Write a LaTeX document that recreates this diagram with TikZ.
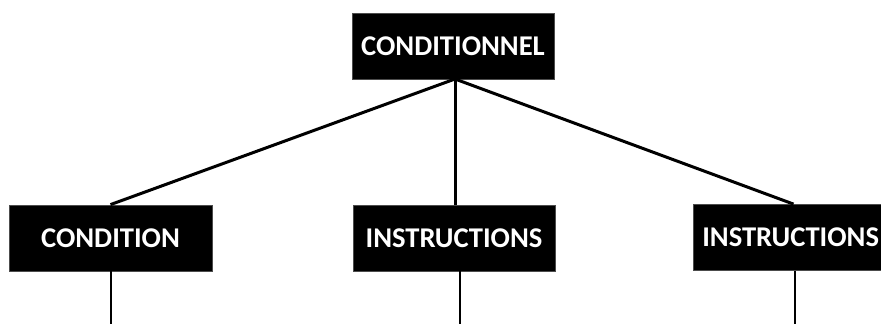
\documentclass[tikz,border=0pt]{standalone}
\usepackage{fontspec}
\setmainfont{Carlito}
\begin{document}
\begin{tikzpicture}[x=1pt,y=1pt,
  box/.style={rectangle,fill=black,draw=black!70,line width=0.8pt,text=white,
    font=\fontsize{28.6}{31}\selectfont\bfseries,minimum height=66pt,inner sep=0pt},
  thick link/.style={line width=3pt},
  thin link/.style={line width=1.5pt}]
\useasboundingbox (0,0) rectangle (881,324);
\clip (0,0) rectangle (881,324);
\node[box,minimum width=202pt] (top) at (453,278) {CONDITIONNEL};
\node[box,minimum width=203pt] (cond) at (110.5,86) {CONDITION};
\node[box,minimum width=202pt] (instA) at (454,86) {INSTRUCTIONS};
\node[box,minimum width=189pt,text width=183pt,align=right] (instB) at (787.5,86.5) {INSTRUCTIONS};
\coordinate (hub) at (455,245);
\coordinate (endA) at (111,0);
\coordinate (endB) at (460,0);
\coordinate (endC) at (795,0);
\draw[thick link] (hub) -- (cond.north);
\draw[thick link] (hub) -- (hub |- instA.north);
\draw[thick link] (hub) -- ([xshift=6pt]instB.north);
\draw[thin link] (endA |- cond.south) -- (endA);
\draw[thin link] (endB |- instA.south) -- (endB);
\draw[thin link] (endC |- instB.south) -- (endC);
\end{tikzpicture}
\end{document}
